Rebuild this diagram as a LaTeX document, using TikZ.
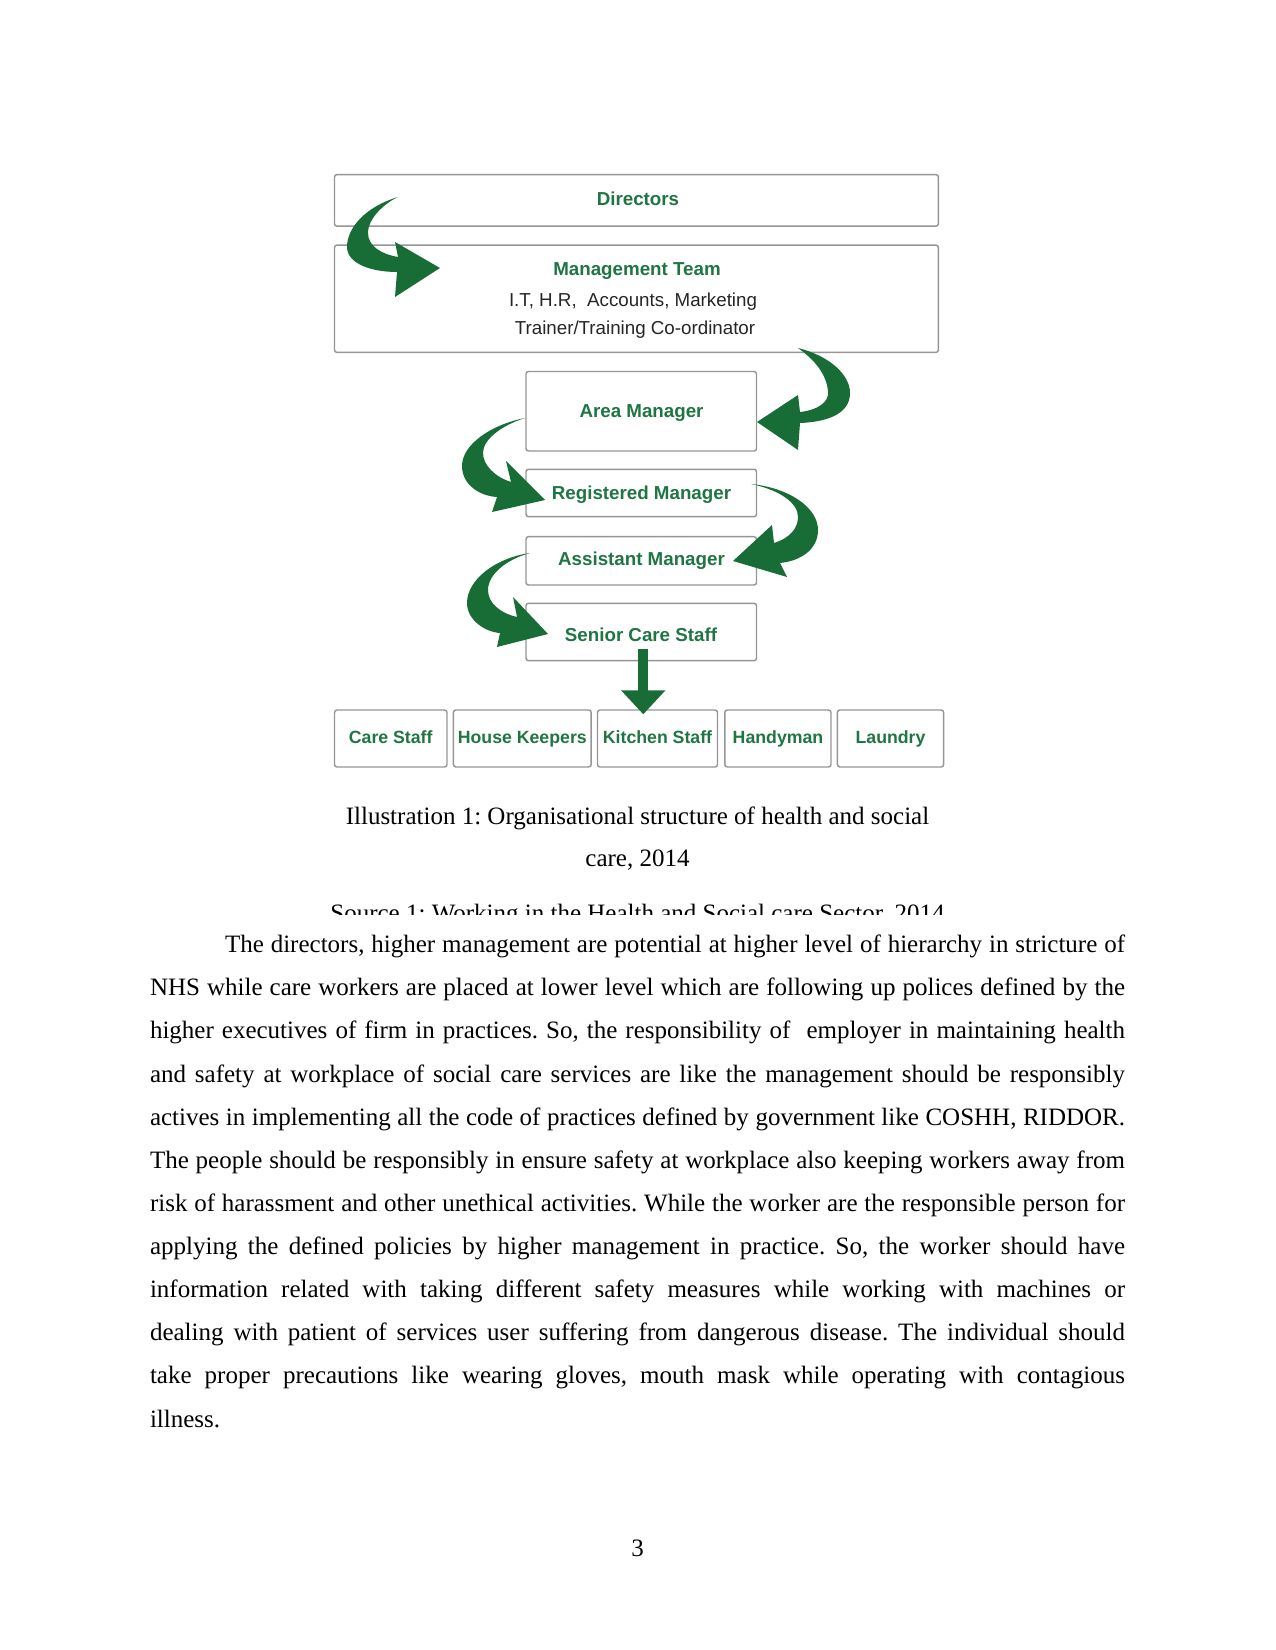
\documentclass[tikz,border=0pt]{standalone}
\usepackage{fontspec}
\setmainfont{Liberation Serif}
\newfontfamily\arialfont{Liberation Sans}
\usetikzlibrary{arrows.meta,calc,fit}
\definecolor{arrowgreen}{RGB}{24,108,54}
\definecolor{textgreen}{RGB}{32,118,66}
\definecolor{boxgray}{RGB}{150,150,150}
\frenchspacing
\begin{document}
\begin{tikzpicture}[x=0.48pt,y=-0.48pt,
  box/.style={draw=boxgray, line width=0.7pt, rounded corners=1.2pt, inner sep=0pt, fill=white},
  lbl/.style={anchor=base, inner sep=0pt, text=textgreen, font=\arialfont\bfseries\fontsize{9}{11}\selectfont},
  sublbl/.style={anchor=base, inner sep=0pt, text=textgreen, font=\arialfont\bfseries\fontsize{8.5}{10}\selectfont},
  plaintxt/.style={anchor=base, text=black!85, font=\arialfont\fontsize{9}{11}\selectfont, inner sep=0pt},
  bodyline/.style={anchor=base west, inner sep=0pt, outer sep=0pt, font=\fontsize{12}{14}\selectfont},
  captxt/.style={anchor=base, inner sep=0pt, outer sep=0pt, font=\fontsize{12}{14}\selectfont},
  curvearrow/.style={fill=arrowgreen}
]
\fill[white] (0,0) rectangle (1275,1650);
\useasboundingbox (0,0) rectangle (1275,1650);

% boxes
\node[box, fit={(334.5,174.6) (938.4,226.2)}] (dir) {};
\node[box, fit={(334.5,245.1) (938.4,352.4)}] (mgmt) {};
\node[box, fit={(526,371.5) (756.5,451)}] (area) {};
\node[box, fit={(526,469.3) (756.5,516.7)}] (reg) {};
\node[box, fit={(526,536.7) (756.5,585)}] (asst) {};
\node[box, fit={(526,603.3) (756.5,660.7)}] (senior) {};
\node[box, fit={(334.5,710) (447,767)}] (care) {};
\node[box, fit={(453.4,710) (591.2,767)}] (house) {};
\node[box, fit={(597.5,710) (717.5,767)}] (kitchen) {};
\node[box, fit={(724.8,710) (831,767)}] (handy) {};
\node[box, fit={(837.4,710) (943.6,767)}] (laundry) {};

% labels
\node[lbl] (tdir) at (638,205.5) {Directors};
\node[lbl] (mt1) at (637,276) {Management Team};
\node[plaintxt] (mt2) at (633,306.5) {I.T, H.R,\ \ Accounts, Marketing};
\node[plaintxt] (mt3) at (635,335) {Trainer/Training Co-ordinator};
\node[lbl] (tarea) at (641.5,418) {Area Manager};
\node[lbl] (treg) at (641.5,499) {Registered Manager};
\node[lbl] (tasst) at (641.5,565.3) {Assistant Manager};
\node[lbl] (tsen) at (641,641) {Senior Care Staff};
\node[sublbl] (tcare) at (390.7,743.8) {Care Staff};
\node[sublbl] (thouse) at (522.3,743.8) {House Keepers};
\node[sublbl] (tkitchen) at (657.5,743.8) {Kitchen Staff};
\node[sublbl] (thandy) at (778,743.8) {Handyman};
\node[sublbl] (tlaundry) at (890.5,743.8) {Laundry};

% curved arrows
\fill[curvearrow] (398,197) .. controls (365,207) and (347,228) .. (347,247)
  .. controls (347,263) and (370,272) .. (397,272) -- (395,297) -- (440,268) -- (395,242) -- (398,257)
  .. controls (381,254) and (368,246) .. (368,233) .. controls (368,218) and (385,203) .. (398,197) -- cycle;

\fill[curvearrow] (798,348) .. controls (830,356) and (850,375) .. (850,393)
  .. controls (850,415) and (825,422) .. (800,423) -- (798,450) -- (757,422) -- (798,395) -- (800,412)
  .. controls (818,410) and (829,402) .. (828,392) .. controls (827,375) and (815,360) .. (798,348) -- cycle;

\fill[curvearrow] (525,418) .. controls (490,425) and (462,445) .. (462,466)
  .. controls (462,485) and (480,496) .. (497,497) -- (492,512) -- (545,500) -- (506,461) -- (511,482)
  .. controls (495,477) and (483,465) .. (483,453) .. controls (483,440) and (500,426) .. (525,418) -- cycle;

\fill[curvearrow] (751,484) .. controls (790,488) and (818,508) .. (818,530)
  .. controls (818,550) and (800,561) .. (780,563) -- (787,577) -- (733,561) -- (772,525) -- (774,543)
  .. controls (790,538) and (798,528) .. (798,517) .. controls (798,503) and (780,490) .. (751,484) -- cycle;

\fill[curvearrow] (530,553) .. controls (495,558) and (467,580) .. (467,603)
  .. controls (467,620) and (485,632) .. (500,633) -- (497,647) -- (548,634) -- (513,597) -- (517,617)
  .. controls (500,613) and (488,603) .. (488,590) .. controls (488,575) and (505,560) .. (530,553) -- cycle;

% straight down arrow
\draw[arrowgreen, line width=4.8pt, -{Triangle[width=20.6pt,length=11.5pt]}]
  ($(senior.south)+(2,-12)$) -- ($(senior.south |- kitchen.north)+(2,5)$);

% caption
\node[captxt] (cap1) at (637.5,824.5) {Illustration 1: Organisational structure of health and social};
\node[captxt] (cap2) at (637.5,866.5) {care, 2014};
\begin{scope}
\clip (0,0) rectangle (1275,914);
\node[captxt] (src) at (637.5,921.5) {Source 1: Working in the Health and Social care Sector, 2014};
\end{scope}

% body text
\node[bodyline] (l1) at (150,952.6) {\makebox[468pt][s]{\hspace*{36pt}The directors, higher management are potential at higher level of hierarchy in stricture of}};
\node[bodyline] (l2) at (150,995.7) {\makebox[468pt][s]{NHS while care workers are placed at lower level which are following up polices defined by the}};
\node[bodyline] (l3) at (150,1038.9) {\makebox[468pt][s]{higher executives of firm in practices. So, the responsibility of\ \ employer in maintaining health}};
\node[bodyline] (l4) at (150,1082.0) {\makebox[468pt][s]{and safety at workplace of social care services are like the management should be responsibly}};
\node[bodyline] (l5) at (150,1125.1) {\makebox[468pt][s]{actives in implementing all the code of practices defined by government like COSHH, RIDDOR.}};
\node[bodyline] (l6) at (150,1168.3) {\makebox[468pt][s]{The people should be responsibly in ensure safety at workplace also keeping workers away from}};
\node[bodyline] (l7) at (150,1211.4) {\makebox[468pt][s]{risk of harassment and other unethical activities. While the worker are the responsible person for}};
\node[bodyline] (l8) at (150,1254.5) {\makebox[468pt][s]{applying the defined policies by higher management in practice. So, the worker should have}};
\node[bodyline] (l9) at (150,1297.6) {\makebox[468pt][s]{information related with taking different safety measures while working with machines or}};
\node[bodyline] (l10) at (150,1340.8) {\makebox[468pt][s]{dealing with patient of services user suffering from dangerous disease. The individual should}};
\node[bodyline] (l11) at (150,1383.9) {\makebox[468pt][s]{take proper precautions like wearing gloves, mouth mask while operating with contagious}};
\node[bodyline] (l12) at (150,1427.0) {illness.};

% page number
\node[captxt] (pgnum) at (637.5,1556) {3};
\end{tikzpicture}
\end{document}
